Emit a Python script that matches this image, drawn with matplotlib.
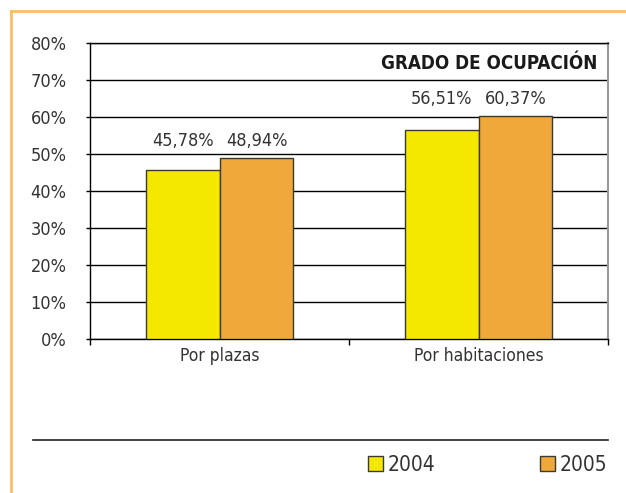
import os
import matplotlib.pyplot as plt
from matplotlib import font_manager
from matplotlib.font_manager import FontProperties
from matplotlib.lines import Line2D
from matplotlib.patches import Patch

# Data
categories = ['Por plazas', 'Por habitaciones']
years = ['2004', '2005']
values_2004 = [45.78, 56.51]
values_2005 = [48.94, 60.37]
labels_2004 = ['45,78%', '56,51%']
labels_2005 = ['48,94%', '60,37%']
yticks = [0, 10, 20, 30, 40, 50, 60, 70, 80]


# Look for a narrow face (the original uses a light condensed font)
def find_face(bold):
    files = [f.fname for f in font_manager.fontManager.ttflist]
    for key in ['LiberationSansNarrow', 'DejaVuSansCondensed', 'RobotoCondensed']:
        for fn in sorted(files):
            base = os.path.basename(fn).replace('-', '').replace(' ', '')
            if key.lower() in base.lower() and 'italic' not in base.lower() and 'oblique' not in base.lower():
                if ('bold' in base.lower()) == bold:
                    return FontProperties(fname=fn)
    return FontProperties(family='Roboto', weight='bold' if bold else 'light')


reg = find_face(False)
bold = find_face(True)

yellow = '#F5E800'
orange = '#F0A83A'
edge = '#3a3a2a'
txt = '#333333'

fig = plt.figure(figsize=(6.26, 4.93), dpi=100)
ax = fig.add_axes([90 / 626, 1 - 339 / 493, 518 / 626, 296 / 493])

w = 0.2857
x = range(len(categories))
ax.bar([i - w / 2 for i in x], values_2004, w, color=yellow, edgecolor=edge, linewidth=1, zorder=3)
ax.bar([i + w / 2 for i in x], values_2005, w, color=orange, edgecolor=edge, linewidth=1, zorder=3)

# Value labels sit above the taller bar of each group
for i in x:
    top = max(values_2004[i], values_2005[i])
    for xpos, lab in [(i - w / 2, labels_2004[i]), (i + w / 2, labels_2005[i])]:
        ax.annotate(lab, (xpos, top), xytext=(0, 12), textcoords='offset points',
                    ha='center', va='center', fontproperties=reg, fontsize=13, color=txt)

ax.set_xlim(-0.5, 1.5)
ax.set_ylim(0, 80)
ax.set_yticks(yticks)
ax.set_yticklabels([f'{t}%' for t in yticks], fontproperties=reg, fontsize=13, color=txt)
ax.yaxis.grid(True, color='black', linewidth=1, zorder=0)
ax.tick_params(axis='y', length=3, width=1, pad=14)

ax.set_xticks([-0.5, 0.5, 1.5])
ax.set_xticklabels([])
ax.tick_params(axis='x', length=4, width=1, direction='out')
for i, c in enumerate(categories):
    ax.text(i, -4.7, c, ha='center', va='center', fontproperties=reg, fontsize=12.5, color=txt)

ax.spines['right'].set_color('#999999')
ax.spines['right'].set_linewidth(1.5)
for s in ['left', 'bottom', 'top']:
    ax.spines[s].set_color('black')
    ax.spines[s].set_linewidth(1)

ax.text(0.98, 0.93, 'GRADO DE OCUPACIÓN', transform=ax.transAxes, ha='right', va='center',
        fontproperties=bold, fontsize=13.5, color='#1a1a1a')

# Orange frame on top and left, and the rule above the legend
fig.add_artist(Line2D([11 / 626, 1], [1 - 11 / 493] * 2, color='#F8BE6A', linewidth=2))
fig.add_artist(Line2D([11 / 626] * 2, [0, 1 - 11 / 493], color='#F8BE6A', linewidth=2))
fig.add_artist(Line2D([33 / 626, 608 / 626], [1 - 440 / 493] * 2, color='#222222', linewidth=1.2))

h1 = Patch(facecolor=yellow, edgecolor=edge, label=years[0])
h2 = Patch(facecolor=orange, edgecolor=edge, label=years[1])
leg_font = reg.copy()
leg_font.set_size(15)
fig.legend(handles=[h1], loc='center left', bbox_to_anchor=(368 / 626, 1 - 465 / 493), frameon=False,
           prop=leg_font, handlelength=0.72, handleheight=0.72, handletextpad=0.2, borderpad=0,
           borderaxespad=0, labelcolor=txt)
fig.legend(handles=[h2], loc='center right', bbox_to_anchor=(607 / 626, 1 - 465 / 493), frameon=False,
           prop=leg_font, handlelength=0.72, handleheight=0.72, handletextpad=0.2, borderpad=0,
           borderaxespad=0, labelcolor=txt)

fig.savefig('out.png', dpi=100)
